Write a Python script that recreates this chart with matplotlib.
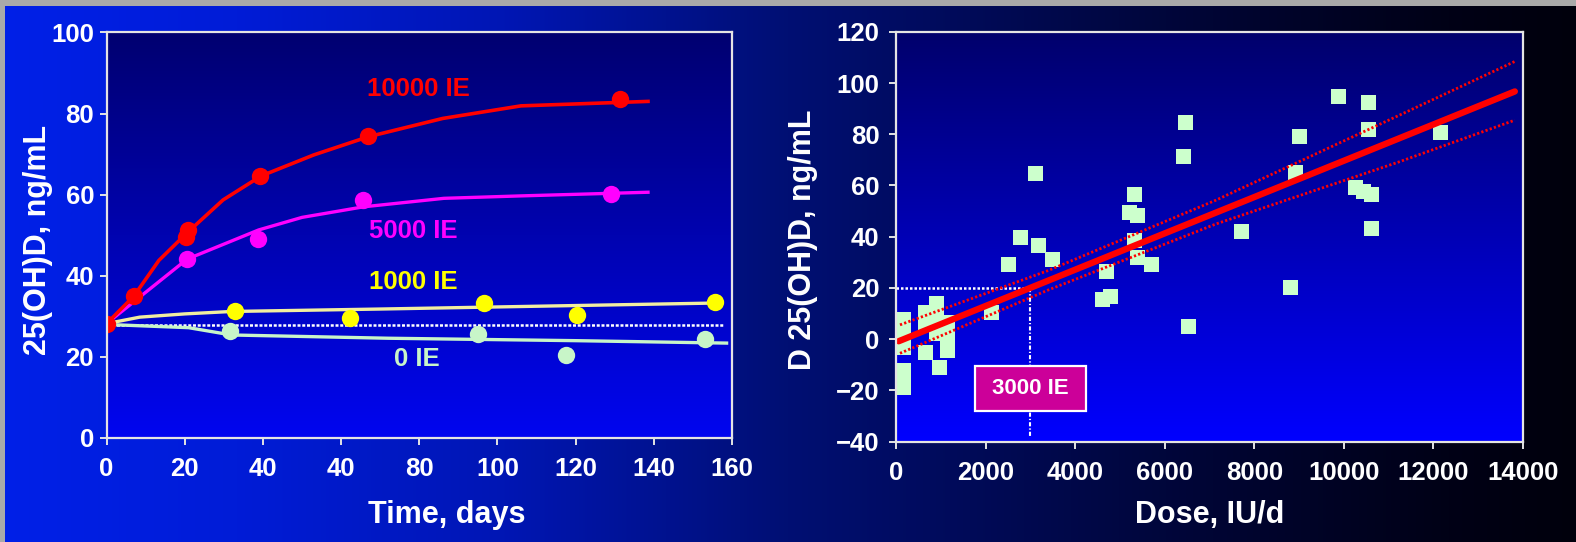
import numpy as np
import matplotlib
matplotlib.use("Agg")
import matplotlib.pyplot as plt
from matplotlib.patches import Rectangle

plt.rcParams['font.family'] = ['Liberation Sans', 'DejaVu Sans']
plt.rcParams['font.weight'] = 'bold'
plt.rcParams['axes.labelweight'] = 'bold'

# ---- left panel: 25(OH)D over time ----
day_ticks = [0, 20, 40, 60, 80, 100, 120, 140, 160]
day_ticklabels = ['0', '20', '40', '40', '80', '100', '120', '140', '160']
conc_ticks = [0, 20, 40, 60, 80, 100]

ie10000_pts_day = [0, 6.9, 20.3, 20.8, 39.3, 66.8, 131.3]
ie10000_pts_val = [28.2, 34.9, 49.6, 51.4, 64.6, 74.5, 83.7]
ie10000_fit_day = [0, 7, 13.4, 20.5, 29.8, 39.5, 53, 67, 86, 106, 138.5]
ie10000_fit_val = [28.2, 35, 43.8, 50.5, 58.7, 64.6, 69.8, 74.3, 78.8, 81.9, 83.0]

ie5000_pts_day = [20.6, 38.8, 65.6, 129]
ie5000_pts_val = [44.1, 49.0, 58.8, 60.2]
ie5000_fit_day = [0, 20.6, 38.9, 50, 65.7, 86.3, 106, 138.5]
ie5000_fit_val = [28.2, 44.1, 51.3, 54.4, 57.0, 59.1, 59.7, 60.6]

ie1000_pts_day = [32.8, 62.2, 96.5, 120.3, 155.6]
ie1000_pts_val = [31.4, 29.5, 33.4, 30.3, 33.6]
ie1000_fit_day = [0, 8.5, 20, 32, 70, 157]
ie1000_fit_val = [28.2, 29.8, 30.6, 31.2, 31.8, 33.3]

ie0_pts_day = [31.7, 94.9, 117.4, 153.2]
ie0_pts_val = [26.4, 25.6, 20.5, 24.3]
ie0_fit_day = [0, 21, 32, 72, 120, 158.6]
ie0_fit_val = [28.0, 27.2, 25.4, 24.6, 24.0, 23.4]

baseline_day = [0, 157.7]
baseline_val = [27.8, 27.8]

# ---- right panel: change vs dose ----
dose_ticks = [0, 2000, 4000, 6000, 8000, 10000, 12000, 14000]
delta_ticks = [-40, -20, 0, 20, 40, 60, 80, 100, 120]

dose = [150, 150, 150, 150, 150, 150, 150,
        650, 650, 650, 900, 900, 900, 1150, 1150, 1150, 960,
        2120, 2510, 2760, 3110, 3170, 3480, 4590, 4790, 4690,
        5200, 5380, 5310, 5310, 5380, 5690, 6400, 6450, 6520,
        7700, 8800, 8920, 9000, 9875, 10540, 10540, 10250, 10430,
        10600, 10615, 12150]
delta = [8, 4, 0, -3, -12, -15.5, -18.8,
         10.8, 6, -4.9, 14.2, 8.5, 2.4, 6.8, 1.5, -4.3, -10.7,
         10.6, 29.3, 40.0, 65.0, 36.8, 31.2, 15.6, 16.9, 26.7,
         49.8, 48.5, 56.6, 38.7, 32.1, 29.4, 71.4, 84.6, 5.2,
         42.2, 20.3, 65.2, 79.2, 94.9, 92.7, 82.0, 59.6, 57.9,
         56.6, 43.3, 81.0]

reg_dose = [60, 13820]
reg_val = [-0.8, 96.7]
ci_dose = [90, 3400, 7150, 11250, 13820]
ci_upper = [5.6, 26.8, 54.3, 87.5, 108.4]
ci_lower = [-5.5, 19.2, 45.0, 69.3, 85.5]

target_dose = 3000
target_delta = 20
target_bottom = -38.7

RED = '#ff0000'
MAGENTA = '#ff00ff'
YELLOW = '#ffff00'
PALEYEL = '#f2eea0'
MINT = '#c8f5c8'
SQUARE = '#ccffcc'
FRAME = '#e4e4e4'

fig = plt.figure(figsize=(15.76, 5.42), dpi=100)

# slide background: blue fading to black towards the right
bg = fig.add_axes([0, 0, 1, 1], zorder=-10)
stops_x = [0.0, 0.15, 0.32, 0.5, 0.65, 0.8, 0.92, 1.0]
stops_rgb = np.array([[0, 32, 232], [0, 28, 215], [0, 22, 180], [0, 15, 115],
                      [0, 9, 80], [0, 4, 45], [0, 1, 22], [0, 0, 12]]) / 255.
xs = np.linspace(0, 1, 800)
grad = np.stack([np.interp(xs, stops_x, stops_rgb[:, k]) for k in range(3)], axis=-1)
bg.imshow(grad[None, :, :], aspect='auto', extent=(0, 1, 0, 1))
bg.set_xlim(0, 1)
bg.set_ylim(0, 1)
bg.axis('off')
# grey slide border strips
bg.add_patch(Rectangle((0, 1 - 6 / 542), 1, 6 / 542, color='#a9a9a9', lw=0))
bg.add_patch(Rectangle((0, 0), 5 / 1576, 1, color='#a9a9a9', lw=0))


def panel_bg(ax, top, bottom):
    t = np.linspace(0, 1, 256)[:, None]
    top = np.array(top) / 255.
    bottom = np.array(bottom) / 255.
    img = (top + (bottom - top) * t)[:, None, :]
    ax.imshow(img, aspect='auto', extent=(0, 1, 0, 1), transform=ax.transAxes,
              zorder=0, interpolation='bilinear')


def style(ax, ypad):
    for s in ax.spines.values():
        s.set_color(FRAME)
        s.set_linewidth(1.6)
        s.set_zorder(5)
    ax.tick_params(direction='out', length=5, width=1.4, color=FRAME,
                   labelcolor='white', labelsize=18.5)
    ax.tick_params(axis='x', pad=9)
    ax.tick_params(axis='y', pad=ypad)


# ---------------- left ----------------
ax1 = fig.add_axes([0.0676, 0.1919, 0.3969, 0.7482])
panel_bg(ax1, (0, 0, 112), (0, 6, 240))
ax1.plot(baseline_day, baseline_val, color='white', lw=1.8,
         ls=(0, (1.2, 0.7)), zorder=2)
ax1.plot(ie0_fit_day, ie0_fit_val, color=MINT, lw=2.4, zorder=2)
ax1.plot(ie1000_fit_day, ie1000_fit_val, color=PALEYEL, lw=2.4, zorder=2)
ax1.plot(ie5000_fit_day, ie5000_fit_val, color=MAGENTA, lw=2.4, zorder=2)
ax1.plot(ie10000_fit_day, ie10000_fit_val, color=RED, lw=2.6, zorder=2)
ax1.plot(ie0_pts_day, ie0_pts_val, 'o', color=MINT, ms=12.5, mew=0, zorder=3)
ax1.plot(ie1000_pts_day, ie1000_pts_val, 'o', color=YELLOW, ms=12.5, mew=0, zorder=3)
ax1.plot(ie5000_pts_day, ie5000_pts_val, 'o', color=MAGENTA, ms=12.5, mew=0, zorder=3)
ax1.plot(ie10000_pts_day, ie10000_pts_val, 'o', color=RED, ms=12.5, mew=0, zorder=4)

ax1.text(79.7, 86, '10000 IE', color=RED, fontsize=18.5, ha='center', va='center')
ax1.text(78.5, 51, '5000 IE', color=MAGENTA, fontsize=18.5, ha='center', va='center')
ax1.text(78.5, 38.4, '1000 IE', color=YELLOW, fontsize=18.5, ha='center', va='center')
ax1.text(79.5, 19.5, '0 IE', color=MINT, fontsize=18.5, ha='center', va='center')

ax1.set_xlim(0, 160)
ax1.set_ylim(0, 100)
ax1.set_xticks(day_ticks)
ax1.set_xticklabels(day_ticklabels)
ax1.set_yticks(conc_ticks)
style(ax1, 4)
ax1.set_xlabel('Time, days', color='white', fontsize=22, fontweight='bold')
ax1.xaxis.set_label_coords(0.544, -0.153)
ax1.set_ylabel('25(OH)D, ng/mL', color='white', fontsize=22, fontweight='bold')
ax1.yaxis.set_label_coords(-0.086, 0.488)

# ---------------- right ----------------
ax2 = fig.add_axes([0.5685, 0.1851, 0.3978, 0.7563])
panel_bg(ax2, (0, 0, 108), (0, 0, 255))
ax2.plot(dose, delta, 's', color=SQUARE, ms=10.8, mew=0, zorder=2)
ax2.plot([0, target_dose], [target_delta, target_delta], color='white', lw=1.8,
         ls=(0, (1.0, 0.8)), zorder=3)
ax2.plot([target_dose, target_dose], [target_delta, target_bottom], color='white',
         lw=1.5, ls=(0, (2.0, 1.0, 0.6, 1.0)), zorder=3)
ax2.plot(ci_dose, ci_upper, color=RED, lw=2.0, ls=(0, (0.8, 0.8)), zorder=4)
ax2.plot(ci_dose, ci_lower, color=RED, lw=2.0, ls=(0, (0.8, 0.8)), zorder=4)
ax2.plot(reg_dose, reg_val, color=RED, lw=4.6, solid_capstyle='round', zorder=4)

ax2.add_patch(Rectangle((target_dose - 1245, -27.9), 2490, 17.5,
                        facecolor='#cc0099', edgecolor='white', lw=1.6, zorder=6))
ax2.text(target_dose, -19.1, '3000 IE', color='white', fontsize=16,
         ha='center', va='center', zorder=7)

ax2.set_xlim(0, 14000)
ax2.set_ylim(-40, 120)
ax2.set_xticks(dose_ticks)
ax2.set_yticks(delta_ticks)
style(ax2, 7)
ax2.set_xlabel('Dose, IU/d', color='white', fontsize=22, fontweight='bold')
ax2.xaxis.set_label_coords(0.5, -0.143)
ax2.set_ylabel('D 25(OH)D, ng/mL', color='white', fontsize=22, fontweight='bold')
ax2.yaxis.set_label_coords(-0.124, 0.492)

fig.savefig('out.png', dpi=100)
